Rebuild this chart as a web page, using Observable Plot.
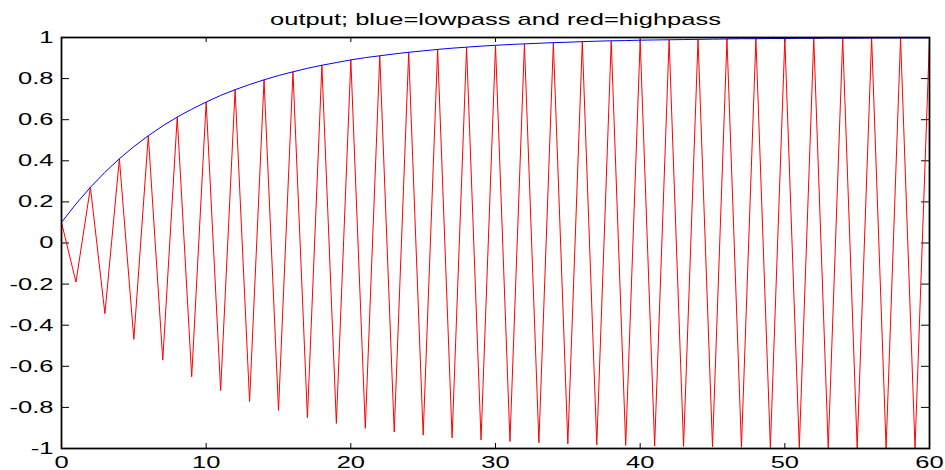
<!DOCTYPE html>
<html>
<head>
<meta charset="utf-8">
<script src="https://cdn.jsdelivr.net/npm/d3@7"></script>
<script src="https://cdn.jsdelivr.net/npm/@observablehq/plot@0.6"></script>
<style>
  html, body { margin: 0; padding: 0; background: #fff; }
  #chart svg { display: block; }
</style>
</head>
<body>
<div id="chart"></div>
<script>
const titleText = "output; blue=lowpass and red=highpass";

const samples = [0,1,2,3,4,5,6,7,8,9,10,11,12,13,14,15,16,17,18,19,20,21,22,23,24,25,26,27,28,29,30,31,32,33,34,35,36,37,38,39,40,41,42,43,44,45,46,47,48,49,50,51,52,53,54,55,56,57,58,59,60];

const lowpass = [0.100,0.190,0.271,0.344,0.410,0.469,0.522,0.570,0.613,0.651,0.686,0.718,0.746,0.771,0.794,0.815,0.833,0.850,0.865,0.878,0.891,0.902,0.911,0.920,0.928,0.935,0.942,0.948,0.953,0.958,0.962,0.966,0.969,0.972,0.975,0.977,0.980,0.982,0.984,0.985,0.987,0.988,0.989,0.990,0.991,0.992,0.993,0.994,0.994,0.995,0.995,0.996,0.996,0.997,0.997,0.997,0.998,0.998,0.998,0.998,0.998];

const highpass = [0.100,-0.190,0.271,-0.344,0.410,-0.469,0.522,-0.570,0.613,-0.651,0.686,-0.718,0.746,-0.771,0.794,-0.815,0.833,-0.850,0.865,-0.878,0.891,-0.902,0.911,-0.920,0.928,-0.935,0.942,-0.948,0.953,-0.958,0.962,-0.966,0.969,-0.972,0.975,-0.977,0.980,-0.982,0.984,-0.985,0.987,-0.988,0.989,-0.990,0.991,-0.992,0.993,-0.994,0.994,-0.995,0.995,-0.996,0.996,-0.997,0.997,-0.997,0.998,-0.998,0.998,-0.998,0.998];

const xTicks = [0,10,20,30,40,50,60];
const yTicks = [-1,-0.8,-0.6,-0.4,-0.2,0,0.2,0.4,0.6,0.8,1];

const lowData = samples.map((n, i) => ({n, v: lowpass[i]}));
const highData = samples.map((n, i) => ({n, v: highpass[i]}));

const W = 945, H = 470;
const mL = 61, mR = 16, mT = 37, mB = 22;
const fw = W - mL - mR, fh = H - mT - mB;
const xTickLen = 5, yTickLen = 8;
const stretch = 1.5; // text in the reference is horizontally stretched

const fmt = d => d === 0 ? "0" : String(d);

const chart = Plot.plot({
  width: W,
  height: H,
  marginLeft: mL,
  marginRight: mR,
  marginTop: mT,
  marginBottom: mB,
  style: {fontFamily: "'Liberation Sans', Arial, Helvetica, sans-serif", fontSize: "17px", color: "#000", background: "#fff", overflow: "visible"},
  x: {domain: [0, 60], ticks: xTicks},
  y: {domain: [-1, 1], ticks: yTicks},
  marks: [
    // inward ticks on all four sides
    Plot.tickX(xTicks, {x: d => d, insetTop: fh - xTickLen, stroke: "#000", strokeWidth: 1}),
    Plot.tickX(xTicks, {x: d => d, insetBottom: fh - xTickLen, stroke: "#000", strokeWidth: 1}),
    Plot.tickY(yTicks, {y: d => d, insetRight: fw - yTickLen, stroke: "#000", strokeWidth: 1}),
    Plot.tickY(yTicks, {y: d => d, insetLeft: fw - yTickLen, stroke: "#000", strokeWidth: 1}),
    Plot.line(highData, {x: "n", y: "v", stroke: "#ff0000", strokeWidth: 1}),
    Plot.line(lowData, {x: "n", y: "v", stroke: "#0000ff", strokeWidth: 1}),
    Plot.frame({stroke: "#000", strokeWidth: 1.75}),
    Plot.axisX(xTicks, {tickSize: 0, tickPadding: 7, tickFormat: fmt, fontSize: 17, label: null}),
    Plot.axisY(yTicks, {tickSize: 0, tickPadding: 8, tickFormat: fmt, fontSize: 17, label: null}),
    Plot.text([titleText], {frameAnchor: "top", dy: -25, fontSize: 17, fill: "#000"})
  ]
});

document.getElementById("chart").appendChild(chart);

// widen every label to match the horizontally stretched lettering of the reference
chart.querySelectorAll("text").forEach(t => {
  const w = t.getComputedTextLength();
  if (w > 0) {
    t.setAttribute("textLength", (w * stretch).toFixed(2));
    t.setAttribute("lengthAdjust", "spacingAndGlyphs");
  }
});
</script>
</body>
</html>
